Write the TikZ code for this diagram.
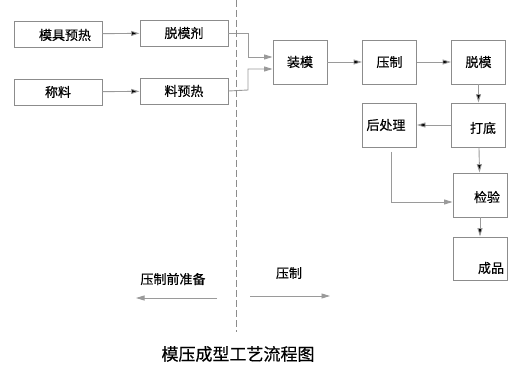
\documentclass[tikz,border=0pt]{standalone}
\usepackage{fontspec}
\setmainfont{Noto Sans CJK SC}[FakeBold=0.5]
\usetikzlibrary{
    arrows.meta
}
\definecolor{lineagris}{HTML}{8C8C8C}
\definecolor{flechagris}{HTML}{9A9A9A}
\tikzset{
    >={Triangle[length=8.5pt,width=5pt]},
    caja/.style={
        draw=lineagris,
        line width=0.9pt,
        minimum width=54pt,
        minimum height=44pt,
        inner sep=0pt
    },
    cajaancha/.style={
        caja,
        minimum width=88pt,
        minimum height=26pt
    },
    flecha/.style={
        ->,
        draw=flechagris,
        line width=0.9pt
    }
}

\begin{document}
\begin{tikzpicture}[
    x=1pt,
    y=-1pt,
    font=\fontsize{13}{15}\selectfont
]
    \useasboundingbox (0,0) rectangle (528,385);

    % Preparación
    \node[cajaancha, label={[xshift=7pt,yshift=-1pt]center:模具预热}] (mjyr) at (58,34)  {};
    \node[cajaancha]                 (tmj)  at (184,33)  {脱模剂};
    \node[cajaancha]                 (cl)   at (58,92)   {称料};
    \node[cajaancha]                 (lyr)  at (184,91)  {料预热};

    % Prensado
    \node[caja]                      (zm)   at (300,62)    {装模};
    \node[caja]                      (yz)   at (389.5,62)  {压制};
    \node[caja]                      (tm)   at (478.5,62)  {脱模};
    \node[caja, label={[xshift=4.5pt,yshift=-3pt]center:打底}] (dd) at (478.5,125) {};
    \node[caja, label={[xshift=-3.5pt]center:后处理}] (hcl) at (389.5,125) {};
    \node[caja, label={[xshift=7pt,yshift=-2pt]center:检验}] (jy) at (480,195) {};
    \node[caja, minimum height=43pt,
          label={[xshift=11pt,yshift=-9.5pt]center:成品}] (cp) at (480,258.5) {};

    % Uniones
    \coordinate (j1) at (248,33);
    \coordinate (j2) at (248,90);
    \coordinate (hs) at (391,152);

    % Transiciones
    \path[flecha]
        (mjyr) edge (tmj)
        (cl)   edge (lyr)
        (zm)   edge (yz)
        (yz)   edge (tm)
        (tm)   edge (dd)
        (dd)   edge (hcl)
        (dd)   edge (jy)
        (jy)   edge (cp);

    \draw[flecha] (tmj.east) -- (j1) |- ([yshift=5pt]zm.west);
    \draw[flecha] (lyr.east) -- (j2) |- ([yshift=-7pt]zm.west);
    \draw[flecha] (hs) |- ([yshift=-7pt]jy.west);

    % División entre etapas
    \coordinate (dv1) at (236,0);
    \coordinate (dv2) at (236,332);
    \draw[lineagris, line width=0.9pt, dash pattern=on 7pt off 3pt] (dv1) -- (dv2);

    % Etapas
    \node (prev) at (173,279) {压制前准备};
    \node (pren) at (289,273) {压制};
    \coordinate (pa) at (217,298);
    \coordinate (pb) at (136,298);
    \coordinate (pc) at (250,296);
    \coordinate (pd) at (330,296);
    \draw[flecha] (pa) -- (pb);
    \draw[flecha] (pc) -- (pd);

    % Título
    \node[font=\fontsize{17}{19}\selectfont] (tit) at (238,354) {模压成型工艺流程图};

\end{tikzpicture}
\end{document}
